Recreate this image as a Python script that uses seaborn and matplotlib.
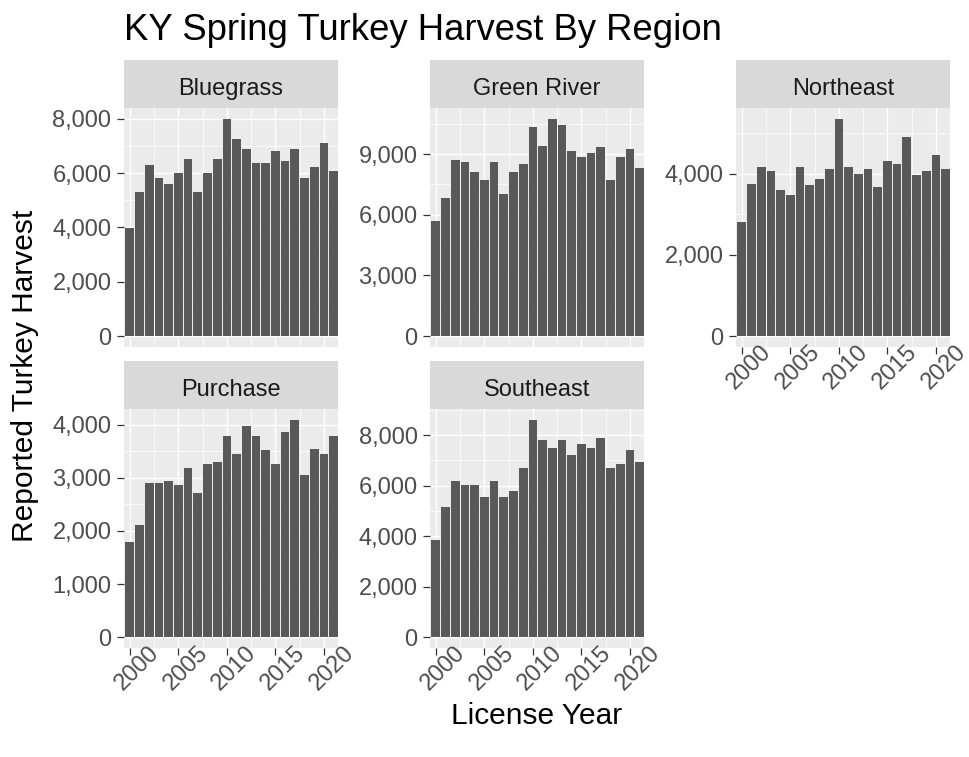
import numpy as np
import pandas as pd
import matplotlib
matplotlib.use("Agg")
import matplotlib.pyplot as plt
from matplotlib.ticker import FixedLocator, MultipleLocator, FuncFormatter
import seaborn as sns

# ---------------- data ----------------
years = list(range(2000, 2022))
regions = ["Bluegrass", "Green River", "Northeast", "Purchase", "Southeast"]

bluegrass = [3980, 5310, 6300, 5840, 5620, 5990, 6520, 5310, 5990, 6520, 8000,
             7270, 6890, 6370, 6370, 6830, 6460, 6890, 5840, 6220, 7120, 6070]
green_river = [5700, 6830, 8730, 8630, 8130, 7720, 8630, 7020, 8130, 8530, 10350,
               9420, 10740, 10450, 9140, 8840, 9040, 9340, 7740, 8840, 9240, 8330]
northeast = [2810, 3750, 4160, 4060, 3610, 3470, 4160, 3710, 3860, 4110, 5350,
             4160, 4000, 4110, 3660, 4310, 4250, 4900, 3960, 4060, 4450, 4110]
purchase = [1800, 2110, 2910, 2910, 2940, 2870, 3180, 2720, 3250, 3290, 3790,
            3440, 3970, 3790, 3520, 3250, 3870, 4090, 3060, 3550, 3440, 3790]
southeast = [3860, 5160, 6190, 6030, 6030, 5560, 6190, 5560, 5790, 6680, 8600,
             7790, 7470, 7790, 7220, 7630, 7470, 7870, 6680, 6840, 7390, 6920]

y_tick_steps = [2000, 3000, 2000, 1000, 2000]
x_tick_labels = [2000, 2005, 2010, 2015, 2020]

title = "KY Spring Turkey Harvest By Region"
x_title = "License Year"
y_title = "Reported Turkey Harvest"

series = [bluegrass, green_river, northeast, purchase, southeast]
df = pd.concat(
    [pd.DataFrame({"region": r, "year": years, "harvest": v}) for r, v in zip(regions, series)],
    ignore_index=True,
)

# ---------------- style ----------------
sns.set_theme(style="white")
plt.rcParams["font.family"] = ["Liberation Sans", "DejaVu Sans"]

W, H = 969, 757
fig = plt.figure(figsize=(W / 100, H / 100), dpi=100)
fig.patch.set_facecolor("white")


def fx(px):
    return px / W


def fy(py):
    return 1 - py / H


panel_w = 214
cols_x = [124, 430, 736]
rows = [(108, 347), (409, 648)]
strip_h = 48

BAR = "#595959"
PANEL_BG = "#EBEBEB"
STRIP_BG = "#D9D9D9"
TICK_TXT = "#4D4D4D"
TICK_COL = "#333333"
TXT_SIZE = 17

for i, reg in enumerate(regions):
    r, c = divmod(i, 3)
    x0 = cols_x[c]
    top, bot = rows[r]
    ax = fig.add_axes([fx(x0), fy(bot), panel_w / W, (bot - top) / H])
    sub = df[df["region"] == reg]
    sns.barplot(data=sub, x="year", y="harvest", native_scale=True, color=BAR,
                saturation=1, width=0.9, linewidth=0, errorbar=None, ax=ax)
    ax.set_facecolor(PANEL_BG)
    for s in ax.spines.values():
        s.set_visible(False)
    m = sub["harvest"].max()
    ax.set_ylim(-0.05 * m, 1.05 * m)
    ax.set_xlim(1999.4, 2021.45)
    ax.xaxis.set_major_locator(FixedLocator(x_tick_labels))
    ax.xaxis.set_minor_locator(FixedLocator([t + 2.5 for t in x_tick_labels[:-1]]))
    step = y_tick_steps[i]
    ax.yaxis.set_major_locator(MultipleLocator(step))
    ax.yaxis.set_minor_locator(MultipleLocator(step / 2))
    ax.yaxis.set_major_formatter(FuncFormatter(lambda v, p: f"{v:,.0f}"))
    ax.set_axisbelow(True)
    ax.grid(which="major", color="white", linewidth=1.0)
    ax.grid(which="minor", color="white", linewidth=0.5)
    ax.set_xlabel("")
    ax.set_ylabel("")
    ax.tick_params(which="minor", length=0)
    ax.tick_params(axis="y", which="major", length=5, width=0.9, color=TICK_COL,
                   labelsize=TXT_SIZE, labelcolor=TICK_TXT, pad=4, left=True)
    show_x = (r == 1) or (c == 2)
    if show_x:
        ax.tick_params(axis="x", which="major", length=5, width=0.9, color=TICK_COL,
                       labelsize=TXT_SIZE, labelcolor=TICK_TXT, pad=4, bottom=True)
        ax.set_xticklabels([str(t) for t in x_tick_labels])
        for lab in ax.get_xticklabels():
            lab.set_rotation(45)
            lab.set_rotation_mode("anchor")
            lab.set_ha("center")
            lab.set_va("top")
    else:
        ax.tick_params(axis="x", which="major", length=0, labelbottom=False)

    sax = fig.add_axes([fx(x0), fy(top), panel_w / W, strip_h / H])
    sax.set_facecolor(STRIP_BG)
    sax.set_xticks([])
    sax.set_yticks([])
    for s in sax.spines.values():
        s.set_visible(False)
    sax.text(0.5, 13 / strip_h, reg, ha="center", va="baseline", fontsize=TXT_SIZE,
             color="#1A1A1A", transform=sax.transAxes)

fig.text(fx(124), fy(40), title, ha="left", va="baseline", fontsize=26.3, color="black")
fig.text(fx(537), fy(716), x_title, ha="center", va="center", fontsize=21.5, color="black")
fig.text(fx(25), fy(376), y_title, ha="center", va="center", rotation=90,
         fontsize=21.5, color="black")

fig.savefig("out.png", dpi=100, facecolor="white")
